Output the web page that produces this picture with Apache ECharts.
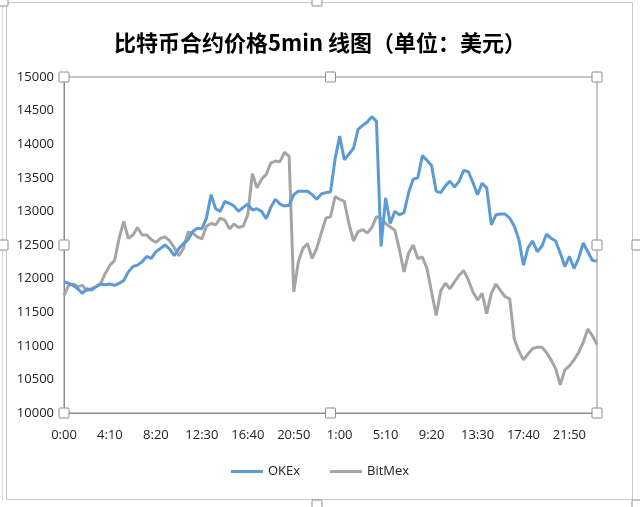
<!DOCTYPE html>
<html>
<head>
<meta charset="utf-8">
<script src="https://cdn.jsdelivr.net/npm/echarts@6/dist/echarts.min.js"></script>
<style>html,body{margin:0;padding:0;background:#fff;}#c{width:640px;height:507px;}</style>
</head>
<body>
<div id="c"></div>
<script>
// time categories: 25-minute steps starting at 0:00
const stepMinutes = 25;
const pointCount = 117;
const categories = [];
for (let i = 0; i < pointCount; i++) {
  const m = i * stepMinutes;
  const h = Math.floor(m / 60) % 24;
  const mm = m % 60;
  categories.push(h + ':' + (mm < 10 ? '0' : '') + mm);
}

const okex = [
11950,11930,11900,11850,11780,11850,11830,11880,11920,11910,
11920,11900,11930,11970,12100,12180,12200,12250,12330,12300,
12400,12450,12500,12440,12340,12450,12520,12580,12700,12750,
12740,12900,13250,13040,13000,13150,13120,13080,13000,13060,
13110,13020,13040,13000,12890,13060,13180,13110,13080,13090,
13250,13300,13300,13300,13250,13180,13260,13280,13290,13780,
14120,13770,13850,13940,14220,14280,14330,14410,14340,12480,
13200,12820,13000,12950,12980,13280,13480,13500,13830,13760,
13680,13300,13280,13380,13450,13360,13450,13610,13590,13430,
13250,13420,13350,12800,12950,12960,12960,12900,12780,12580,
12200,12460,12560,12400,12480,12660,12600,12560,12380,12180,
12330,12150,12300,12530,12400,12270,12260
];

const bitmex = [
11750,11900,11920,11880,11900,11820,11850,11880,11930,12080,
12200,12270,12600,12850,12600,12650,12760,12650,12650,12580,
12540,12600,12620,12560,12460,12340,12450,12690,12680,12620,
12590,12780,12820,12800,12900,12870,12740,12810,12760,12780,
12950,13560,13350,13480,13550,13720,13750,13740,13880,13820,
11800,12250,12450,12520,12300,12450,12680,12900,12920,13220,
13180,13150,12820,12560,12700,12730,12680,12760,12920,12900,
12820,12770,12720,12430,12100,12380,12500,12300,12320,12150,
11800,11450,11820,11930,11850,11950,12050,12120,11980,11800,
11680,11780,11480,11780,11920,11820,11730,11700,11100,10920,
10790,10880,10960,10980,10980,10900,10790,10660,10420,10640,
10700,10790,10900,11050,11250,11150,11020
];

const seriesNames = ['OKEx', 'BitMex'];
const yTicks = { min: 10000, max: 15000, interval: 500 };
const titleText = '比特币合约价格5min 线图（单位：美元）';

const chart = echarts.init(document.getElementById('c'), null, { renderer: 'canvas' });

function handle(x, y) {
  return {
    type: 'rect', z: 100,
    shape: { x: x - 5, y: y - 5, width: 10, height: 10, r: 1 },
    style: { fill: '#ffffff', stroke: '#8c8c8c', lineWidth: 1 }
  };
}

const fontFam = '"Open Sans", "Noto Sans", sans-serif';

chart.setOption({
  backgroundColor: '#ffffff',
  animation: false,
  title: {
    text: titleText,
    left: 'center',
    top: 27,
    textStyle: { fontFamily: '"Noto Sans CJK SC", sans-serif', fontWeight: 'bold', fontSize: 22, color: '#000' }
  },
  legend: {
    bottom: 24,
    left: 'center',
    itemGap: 30,
    itemWidth: 32,
    itemHeight: 3,
    icon: 'rect',
    textStyle: { fontFamily: fontFam, fontSize: 13, color: '#222' },
    data: seriesNames
  },
  grid: {
    left: 64, right: 43, top: 77, bottom: 94,
    show: true, borderColor: '#8c8c8c', borderWidth: 1, containLabel: false
  },
  xAxis: {
    type: 'category',
    data: categories,
    boundaryGap: false,
    axisLine: { lineStyle: { color: '#8c8c8c' } },
    axisTick: { show: false },
    axisLabel: { interval: 9, margin: 16, fontFamily: fontFam, fontSize: 13, color: '#222' },
    splitLine: { show: false }
  },
  yAxis: {
    type: 'value',
    min: yTicks.min, max: yTicks.max, interval: yTicks.interval,
    axisLine: { show: true, lineStyle: { color: '#8c8c8c' } },
    axisTick: { show: false },
    axisLabel: { margin: 10, fontFamily: fontFam, fontSize: 13, color: '#222', formatter: function (v) { return String(v); } },
    splitLine: { show: false }
  },
  series: [
    { name: seriesNames[0], type: 'line', data: okex, symbol: 'none', lineStyle: { width: 3, color: '#5B9BD5' }, itemStyle: { color: '#5B9BD5' }, z: 3 },
    { name: seriesNames[1], type: 'line', data: bitmex, symbol: 'none', lineStyle: { width: 3, color: '#A5A5A5' }, itemStyle: { color: '#A5A5A5' }, z: 2 }
  ],
  graphic: [
    { type: 'rect', z: 50, shape: { x: 6.5, y: 2.5, width: 626, height: 497 }, style: { fill: null, stroke: '#c8c8c8', lineWidth: 1 } },
    { type: 'line', z: 50, shape: { x1: 2.5, y1: 2, x2: 2.5, y2: 500 }, style: { stroke: '#d8d8d8', lineWidth: 1 } },
    handle(64, 77), handle(330.5, 77), handle(597, 77),
    handle(64, 245), handle(597, 245),
    handle(64, 413), handle(330.5, 413), handle(597, 413),
    handle(3, 245), handle(637, 245), handle(317, 1), handle(317, 505), handle(3, 1), handle(637, 505)
  ]
});
</script>
</body>
</html>
